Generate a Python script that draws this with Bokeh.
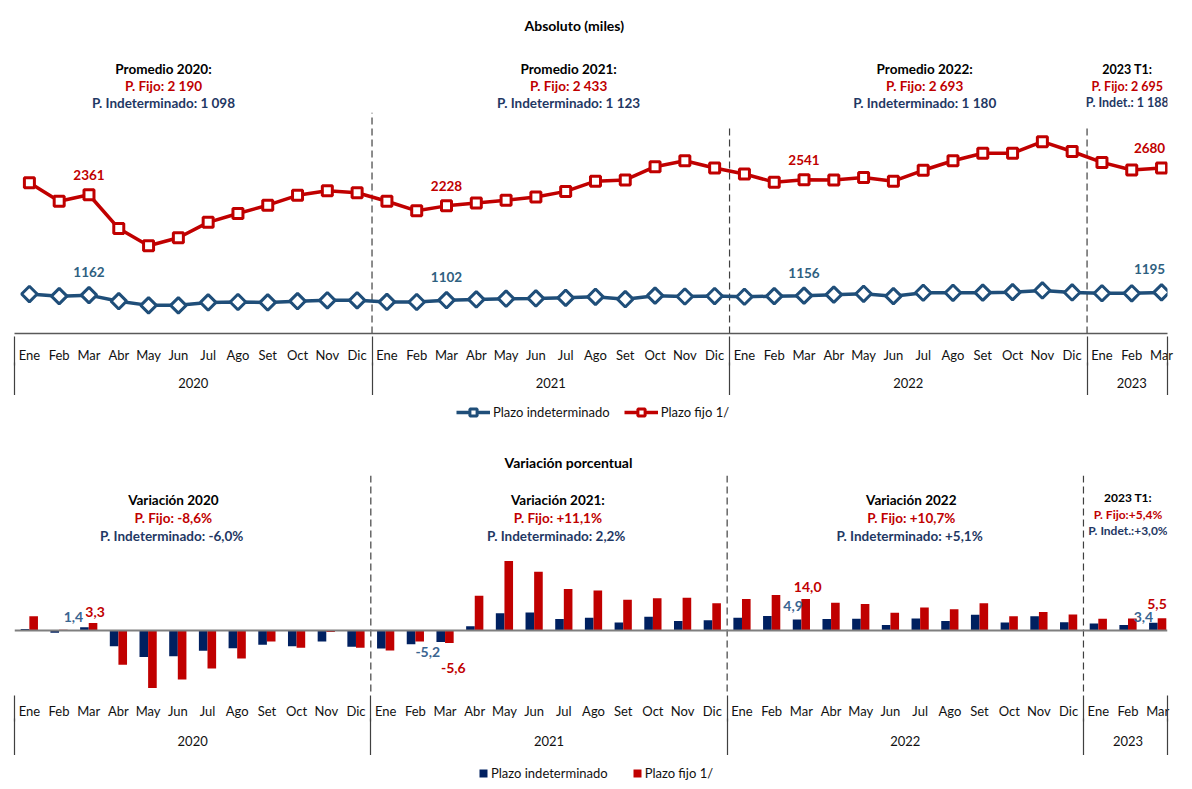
import numpy as np
from bokeh.plotting import figure
from bokeh.models import (Range1d, LinearAxis, FixedTicker, CustomJSTickFormatter,
                          Span, Legend, LegendItem)
from bokeh.layouts import column
from bokeh.embed import file_html
from bokeh.resources import INLINE
from bokeh.core.properties import value

# ---------------- data ----------------
months = ["Ene", "Feb", "Mar", "Abr", "May", "Jun", "Jul", "Ago", "Set", "Oct", "Nov", "Dic"] * 3 + ["Ene", "Feb", "Mar"]
years = ["2020"] * 12 + ["2021"] * 12 + ["2022"] * 12 + ["2023"] * 3

plazo_fijo = [2503, 2283, 2361, 1957, 1752, 1847, 2031, 2137, 2236, 2354, 2409, 2385,
              2283, 2169, 2228, 2263, 2295, 2334, 2401, 2523, 2538, 2696, 2767, 2680,
              2609, 2511, 2541, 2538, 2567, 2523, 2653, 2767, 2857, 2857, 2995, 2877,
              2747, 2656, 2680]
plazo_indet = [1175, 1150, 1162, 1090, 1040, 1040, 1075, 1080, 1075, 1090, 1100, 1100,
               1081, 1080, 1102, 1111, 1120, 1123, 1130, 1142, 1114, 1156, 1146, 1151,
               1143, 1150, 1156, 1168, 1178, 1150, 1191, 1190, 1192, 1198, 1218, 1194,
               1185, 1184, 1195]

var_indet = [0.7, -1.0, 1.4, -7.0, -11.8, -11.5, -9.1, -7.9, -6.4, -7.1, -4.9, -7.3,
             -8.0, -6.1, -5.2, 1.9, 7.7, 8.0, 5.1, 5.7, 3.6, 6.1, 4.2, 4.6,
             5.7, 6.5, 4.9, 5.1, 5.2, 2.4, 5.4, 4.2, 7.0, 3.6, 6.3, 3.7,
             3.1, 2.4, 3.4]
var_fijo = [6.3, 0.3, 3.3, -15.3, -25.7, -21.9, -17.0, -12.5, -4.9, -7.7, -0.7, -7.7,
            -8.9, -4.9, -5.6, 15.5, 31.0, 26.2, 18.5, 17.9, 13.7, 14.4, 14.6, 12.2,
            14.1, 15.8, 14.0, 12.4, 11.8, 7.9, 10.3, 9.5, 12.2, 6.3, 8.3, 7.1,
            5.2, 5.4, 5.5]

avg_fijo = [2190, 2433, 2693, 2695]
avg_indet = [1098, 1123, 1180, 1188]
var_anual_fijo = [-8.6, 11.1, 10.7, 5.4]
var_anual_indet = [-6.0, 2.2, 5.1, 3.0]

series_names = ["Plazo indeterminado", "Plazo fijo 1/"]

# ---------------- style ----------------
RED = "#C00000"
BLUE_LINE = "#1F4E79"
BLUE_BAR = "#002060"
BLUE_TXT = "#1F3864"
BLUE_LBL = "#2E6080"
BLUE_LBL2 = "#3A6591"
FONT = "Lato"
AXC = "#404040"
W = 1177

xs = list(range(len(months)))
mar_idx = [i for i, m in enumerate(months) if m == "Mar"]

# year groups
group_labels, group_start, group_end = [], [], []
for i, y in enumerate(years):
    if not group_labels or group_labels[-1] != y:
        group_labels.append(y)
        group_start.append(i)
        group_end.append(i)
    else:
        group_end[-1] = i
centers = [(s + e) / 2 for s, e in zip(group_start, group_end)]
inner_seps = [e + 0.5 for e in group_end[:-1]]


def thousands(v):
    return f"{v:,}".replace(",", " ")


def pct(v, plus=True):
    s = f"{abs(v):.1f}".replace(".", ",")
    if v < 0:
        return "-" + s
    return ("+" if plus else "") + s


def style_axis(ax, standoff):
    ax.major_tick_line_color = None
    ax.major_tick_out = 0
    ax.major_tick_in = 0
    ax.minor_tick_line_color = AXC
    ax.minor_tick_line_width = 1.2
    ax.major_label_text_font = FONT
    ax.major_label_text_font_size = "13px"
    ax.major_label_text_color = "#111111"
    ax.major_label_standoff = standoff


def add_cat_axes(p, x_end, line_color, m_so, y_so, h_month, h_year, tail):
    seps = [-0.5] + inner_seps + [x_end]
    a_month = LinearAxis(
        ticker=FixedTicker(ticks=xs, minor_ticks=[]),
        formatter=CustomJSTickFormatter(args=dict(labels=months),
                                        code="const i = Math.round(tick); return (i >= 0 && i < labels.length) ? labels[i] : '';"))
    style_axis(a_month, m_so)
    a_month.minor_tick_in = 0
    a_month.minor_tick_out = 0
    a_month.axis_line_color = line_color
    a_month.axis_line_width = 1.5

    a_year = LinearAxis(
        ticker=FixedTicker(ticks=centers, minor_ticks=seps),
        formatter=CustomJSTickFormatter(args=dict(pos=centers, labels=group_labels),
                                        code="for (let k = 0; k < pos.length; k++) { if (Math.abs(pos[k] - tick) < 1e-6) return labels[k]; } return '';"))
    style_axis(a_year, y_so)
    a_year.minor_tick_in = h_month
    a_year.minor_tick_out = 0
    a_year.axis_line_color = None

    a_tail = LinearAxis(ticker=FixedTicker(ticks=[], minor_ticks=seps),
                        formatter=CustomJSTickFormatter(code="return '';"))
    style_axis(a_tail, 0)
    a_tail.minor_tick_in = h_year
    a_tail.minor_tick_out = tail
    a_tail.axis_line_color = None

    p.add_layout(a_month, "below")
    p.add_layout(a_year, "below")
    p.add_layout(a_tail, "below")


def legend_fig(height, items_spec, loc, glyph_w, glyph_h, spacing):
    lf = figure(width=W, height=height, x_range=Range1d(0, 1), y_range=Range1d(0, 1),
                output_backend="svg", toolbar_location=None,
                x_axis_location=None, y_axis_location=None, min_border=0)
    lf.grid.visible = False
    lf.outline_line_color = None
    items = []
    for label, maker in items_spec:
        items.append(LegendItem(label=label, renderers=maker(lf)))
    leg = Legend(items=items, orientation="horizontal", location=loc, border_line_color=None,
                 background_fill_alpha=0, label_text_font=FONT, label_text_font_size="13px",
                 label_text_color="#111111",
                 glyph_width=glyph_w, glyph_height=glyph_h, spacing=spacing, padding=2,
                 margin=0, label_standoff=3)
    lf.add_layout(leg, "center")
    return lf


# ================= TOP: absolute =================
T_TOP, T_H = 45, 288
T_LEFT, T_W = 14, 1155
T_X_END = 38.2
Y0, Y1 = 704, 4107


def ty(py):
    return Y1 - (py - T_TOP) * (Y1 - Y0) / T_H


p1 = figure(width=W, height=395,
            x_range=Range1d(-0.5, T_X_END), y_range=Range1d(Y0, Y1),
            output_backend="svg", toolbar_location=None,
            x_axis_location=None, y_axis_location=None,
            min_border_left=T_LEFT, min_border_right=W - T_LEFT - T_W,
            min_border_top=T_TOP, min_border_bottom=62,
            title="Absoluto (miles)")
p1.title.align = "left"
p1.title.offset = 510
p1.title.standoff = 29
p1.title.text_font = FONT
p1.title.text_font_size = "14px"
p1.title.text_font_style = "bold"
p1.title.text_color = "#000000"
p1.grid.visible = False
p1.outline_line_color = None

# dashed separators
p1.segment(x0=inner_seps, y0=[Y0] * len(inner_seps), x1=inner_seps,
           y1=[ty(110), ty(122), ty(122)], line_color=AXC, line_width=1.2, line_dash="7 4")

LINE_STYLE = [dict(line_color=BLUE_LINE, line_width=3.5), dict(line_color=RED, line_width=3.5)]
MK_STYLE = [dict(marker="square", angle=np.pi / 4, size=11, fill_color="white", line_color=BLUE_LINE, line_width=3),
            dict(marker="square", size=10, fill_color="white", line_color=RED, line_width=3)]

r_line = p1.line(xs, plazo_fijo, **LINE_STYLE[1])
r_mk = p1.scatter(xs, plazo_fijo, **MK_STYLE[1])
b_line = p1.line(xs, plazo_indet, **LINE_STYLE[0])
b_mk = p1.scatter(xs, plazo_indet, **MK_STYLE[0])

lab_top_dx_r = [0, 0, 0, -12]
lab_top_dx_b = [0, 0, 0, -12]
p1.text(x=mar_idx, y=[plazo_fijo[i] for i in mar_idx], text=[str(plazo_fijo[i]) for i in mar_idx],
        x_offset=lab_top_dx_r, y_offset=-20, text_color=RED, text_font=value(FONT), text_font_style="bold",
        text_font_size="13.5px", text_align="center", text_baseline="middle")
p1.text(x=mar_idx, y=[plazo_indet[i] for i in mar_idx], text=[str(plazo_indet[i]) for i in mar_idx],
        x_offset=lab_top_dx_b, y_offset=-23, text_color=BLUE_LBL, text_font=value(FONT), text_font_style="bold",
        text_font_size="13.5px", text_align="center", text_baseline="middle")

# annotations
ann_x_top = [4.5, 18.1, 30.05, 36.85]
head_top = [("Promedio " + g + ":") if k < 3 else (g + " T1:") for k, g in enumerate(group_labels)]
fijo_top = ["P. Fijo: " + thousands(v) for v in avg_fijo]
ind_top = [("P. Indeterminado: " if k < 3 else "P. Indet.: ") + thousands(v) for k, v in enumerate(avg_indet)]
for texts, py, col in ((head_top, 66, "#000000"), (fijo_top, 83, RED), (ind_top, 100, BLUE_TXT)):
    p1.text(x=ann_x_top[:3], y=[ty(py)] * 3, text=texts[:3], text_color=col, text_font=value(FONT),
            text_font_style="bold", text_font_size="13.5px", text_align="center", text_baseline="middle")
    p1.text(x=ann_x_top[3:], y=[ty(py)], text=texts[3:], text_color=col, text_font=value(FONT),
            text_font_style="bold", text_font_size="12.5px", text_align="center", text_baseline="middle")

add_cat_axes(p1, T_X_END, "#595959", 13, 12, 29, 28, 5)

leg1 = legend_fig(30, [
    (series_names[0], lambda f: [f.line(x=[-10, -9], y=[-10, -9], **LINE_STYLE[0]),
                                 f.scatter(x=[-10], y=[-10], **MK_STYLE[0])]),
    (series_names[1], lambda f: [f.line(x=[-10, -9], y=[-10, -9], **LINE_STYLE[1]),
                                 f.scatter(x=[-10], y=[-10], **MK_STYLE[1])]),
], (442, 4), 34, 18, 14)

# ================= BOTTOM: % variation =================
B_TOP, B_H = 475, 217
B_LEFT, B_W = 7, 1160
B_X_END = 38.33
B0, B1 = -27.7, 69.2
P2_START = 395 + 30


def by(py):
    return B1 - (py - B_TOP) * (B1 - B0) / B_H


p2 = figure(width=W, height=330,
            x_range=Range1d(-0.5, B_X_END), y_range=Range1d(B0, B1),
            output_backend="svg", toolbar_location=None,
            x_axis_location=None, y_axis_location=None,
            min_border_left=B_LEFT, min_border_right=W - B_LEFT - B_W,
            min_border_top=B_TOP - P2_START, min_border_bottom=63,
            title="Variación porcentual")
p2.title.align = "left"
p2.title.offset = 490
p2.title.text_font = FONT
p2.title.text_font_size = "14px"
p2.title.text_font_style = "bold"
p2.title.text_color = "#000000"
p2.grid.visible = False
p2.outline_line_color = None

for s in inner_seps:
    p2.add_layout(Span(location=s, dimension="height", line_color=AXC, line_width=1.2, line_dash="7 4"))

BW = 0.29
xb = [x - BW / 2 for x in xs]
xr = [x + BW / 2 for x in xs]
BAR_COLORS = [BLUE_BAR, RED]
bars_b = p2.vbar(x=xb, top=var_indet, bottom=0, width=BW, fill_color=BAR_COLORS[0], line_color=None)
bars_r = p2.vbar(x=xr, top=var_fijo, bottom=0, width=BW, fill_color=BAR_COLORS[1], line_color=None)
p2.add_layout(Span(location=0, dimension="width", line_color="#7F7F7F", line_width=2))

# data labels on March bars
lab_b_dx = [-11, -13, -4, -10]
lab_b_dy = [-10, 10, -13, -6]
lab_r_dx = [2, 4, 2, -5]
lab_r_dy = [-11, 25, -12, -14]
p2.text(x=[xb[i] for i in mar_idx], y=[var_indet[i] for i in mar_idx],
        text=[pct(var_indet[i], plus=False) for i in mar_idx],
        x_offset=lab_b_dx, y_offset=lab_b_dy, text_color=BLUE_LBL2, text_font=value(FONT),
        text_font_style="bold", text_font_size="14px", text_align="center", text_baseline="middle")
p2.text(x=[xr[i] for i in mar_idx], y=[var_fijo[i] for i in mar_idx],
        text=[pct(var_fijo[i], plus=False) for i in mar_idx],
        x_offset=lab_r_dx, y_offset=lab_r_dy, text_color=RED, text_font=value(FONT),
        text_font_style="bold", text_font_size="14px", text_align="center", text_baseline="middle")

# annotations
ann_x_bot = [4.85, 17.8, 29.7, 37.0]
head_bot = ["Variación 2020", "Variación 2021:", "Variación 2022", "2023 T1:"]
plus_ind = [True, False, True, True]
fijo_bot = [("P. Fijo: " if k < 3 else "P. Fijo:") + pct(v) + "%" for k, v in enumerate(var_anual_fijo)]
ind_bot = [("P. Indeterminado:  " if k < 3 else "P. Indet.:") + pct(v, plus_ind[k]) + "%"
           for k, v in enumerate(var_anual_indet)]
for texts, pys, col in ((head_bot, (499, 497), "#000000"), (fijo_bot, (517, 514), RED), (ind_bot, (535, 530), BLUE_TXT)):
    p2.text(x=ann_x_bot[:3], y=[by(pys[0])] * 3, text=texts[:3], text_color=col, text_font=value(FONT),
            text_font_style="bold", text_font_size="13.5px", text_align="center", text_baseline="middle")
    p2.text(x=ann_x_bot[3:], y=[by(pys[1])], text=texts[3:], text_color=col, text_font=value(FONT),
            text_font_style="bold", text_font_size="12px", text_align="center", text_baseline="middle")

add_cat_axes(p2, B_X_END, None, 10, 14, 26, 30, 7)

leg2 = legend_fig(27, [
    (series_names[0], lambda f: [f.vbar(x=[-10], top=[-10], width=0.1, fill_color=BAR_COLORS[0], line_color=None)]),
    (series_names[1], lambda f: [f.vbar(x=[-10], top=[-10], width=0.1, fill_color=BAR_COLORS[1], line_color=None)]),
], (464, 1), 10, 10, 24)

layout = column(p1, leg1, p2, leg2)
open("out.html", "w").write(file_html(layout, INLINE))
